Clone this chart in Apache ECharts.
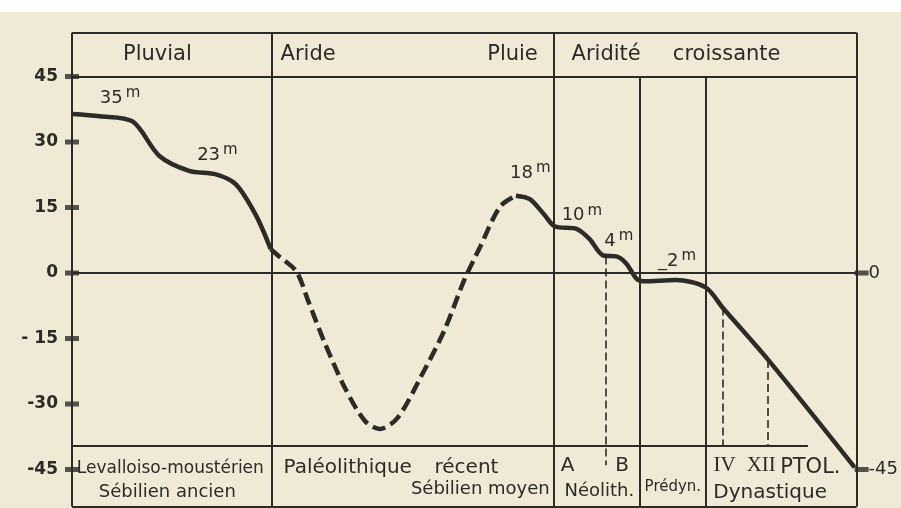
<!DOCTYPE html>
<html><head><meta charset="utf-8">
<script src="https://cdn.jsdelivr.net/npm/echarts@6/dist/echarts.min.js"></script>
<style>html,body{margin:0;padding:0;background:#f0e9d6;}#c{width:901px;height:508px;}</style>
</head><body><div id="c"></div>
<script>
// ---- data (time axis in arbitrary schematic units 0..790, level in metres) ----
const X_MAX = 790;
const yTickValues = [45, 30, 15, 0, -15, -30, -45];
const yTickLabels = ['45', '30', '15', '0', '- 15', '-30', '-45'];
const rightTickValues = [0, -45];
const rightTickLabels = ['0', '-45'];

const curveSolidA = [[0,36.4],[28,35.9],[61,34.7],[88,26.8],[118,23.4],[145,22.6],[165,20.3],[185,13.3],[200,5.5]];
const curveDashed = [[200,5.5],[208,3.9],[226,0.3],[238,-6.5],[255,-16.3],[275,-26.4],[295,-33.9],[310,-35.7],[328,-33.1],[351,-23.9],[375,-13.1],[395,-1.6],[411,6.0],[431,15.2],[447,17.7]];
const curveSolidB = [[447,17.7],[461,16.9],[475,13.5],[486,10.7],[508,10.1],[521,7.8],[535,4.0],[548,3.8],[558,2.2],[568,-1.2],[575,-1.9],[608,-1.6],[638,-3.3],[655,-7.9],[701,-19.9],[788,-44.5]];

// table frame: horizontal [x0, x1, y], vertical [x, y0, y1]
const frameH = [[0,790,55],[0,790,45],[0,790,0],[0,741,-39.5],[0,790,-53.5]];
const frameV = [[0,55,-53.5],[201,55,-53.5],[485,55,-53.5],[572,45,-53.5],[638,45,-53.5],[790,55,-53.5]];
const periodMarks = [[537,3.8,-44],[655,-7.9,-39.5],[701,-19.9,-39.5]];

const headerLabels = [['Pluvial',86,50,'center'],['Aride',210,50,'left'],['Pluie',469,50,'right'],['Aridité',503,50,'left'],['croissante',605,50,'left']];
const levelLabels = [['35',28,40],['23',126,27],['18',441,22.8],['10',493,13.1],['4',536,7.2],['_2',590,2.7]];
const footerLabels = [
  ['Levalloiso-moustérien',99,-44.8,'center',17,'sans'],
  ['Sébilien ancien',96,-50.2,'center',18,'sans'],
  ['Paléolithique',213,-44.5,'left',20,'sans'],
  ['récent',365,-44.5,'left',20,'sans'],
  ['Sébilien moyen',481,-49.5,'right',18,'sans'],
  ['A',499,-44.2,'center',20,'sans'],
  ['B',554,-44.2,'center',20,'sans'],
  ['Néolith.',531,-50,'center',18,'sans'],
  ['Prédyn.',605,-49,'center',15,'sans'],
  ['IV',657,-44,'center',21,'serif'],
  ['XII',694,-44,'center',21,'serif'],
  ['PTOL.',713,-44.6,'left',21,'sans'],
  ['Dynastique',703,-50.4,'center',20,'sans']
];

const INK = '#2c2b28';
const SANS = '"DejaVu Sans", sans-serif';
const SERIF = '"Liberation Serif", serif';

const chart = echarts.init(document.getElementById('c'), null, {renderer: 'canvas'});

const hSeg = frameH.map(d => ({coords: [[d[0], d[2]], [d[1], d[2]]]}));
const vSeg = frameV.map(d => ({coords: [[d[0], d[1]], [d[0], d[2]]]}));
const pSeg = periodMarks.map(d => ({coords: [[d[0], d[1]], [d[0], d[2]]]}));

function curve(data, type) {
  return {
    type: 'line', data: data, smooth: 0.3, showSymbol: false, silent: true, z: 5, clip: false,
    lineStyle: {color: INK, width: 4.5, type: type, cap: 'butt', join: 'round'}
  };
}

// metres 45 .. -45 span 393 px (4.367 px per metre), zero at y = 273
chart.setOption({
  backgroundColor: '#f0e9d6',
  animation: false,
  grid: {left: 72, top: 76.5, width: 790, height: 393},
  xAxis: {type: 'value', min: 0, max: X_MAX, show: false},
  yAxis: [
    {type: 'value', min: -45, max: 45, interval: 15, position: 'left',
     axisLine: {show: false}, axisTick: {show: false}, splitLine: {show: false},
     axisLabel: {margin: 14, color: INK, fontSize: 17, fontWeight: 'bold', fontFamily: SANS,
       formatter: v => { const i = yTickValues.indexOf(v); return i >= 0 ? yTickLabels[i] : ''; }}},
    {type: 'value', min: -45, max: 45, interval: 15, position: 'right',
     axisLine: {show: false}, axisTick: {show: false}, splitLine: {show: false},
     axisLabel: {margin: 12, color: INK, fontSize: 18, fontFamily: SANS,
       formatter: v => { const i = rightTickValues.indexOf(v); return i >= 0 ? rightTickLabels[i] : ''; }}}
  ],
  series: [
    {type: 'lines', coordinateSystem: 'cartesian2d', polyline: false, silent: true, z: 2, clip: false,
     lineStyle: {color: INK, width: 2, opacity: 1, curveness: 0}, data: hSeg.concat(vSeg)},
    {type: 'lines', coordinateSystem: 'cartesian2d', polyline: false, silent: true, z: 3, clip: false,
     lineStyle: {color: INK, width: 1.6, opacity: 1, curveness: 0, type: [8, 4]}, data: pSeg},
    curve(curveSolidA, 'solid'),
    curve(curveDashed, [13, 6]),
    curve(curveSolidB, 'solid'),
    {type: 'scatter', silent: true, z: 4, symbol: 'rect', symbolSize: [14, 5], clip: false,
     itemStyle: {color: INK}, data: yTickValues.map(v => [0, v])},
    {type: 'scatter', silent: true, z: 4, symbol: 'rect', symbolSize: [14, 5], symbolOffset: [5, 0], clip: false,
     itemStyle: {color: INK}, data: rightTickValues.map(v => [X_MAX, v])}
  ]
});

// text annotations anchored in data space
const ctx = document.createElement('canvas').getContext('2d');
function textW(t, font) { ctx.font = font; return ctx.measureText(t).width; }
const graphics = [
  // white scan margin along the top edge
  {type: 'rect', left: 0, top: 0, shape: {width: 901, height: 12}, style: {fill: '#ffffff'}, silent: true, z: 0}
];
function addText(t, x, y, align, size, fam) {
  const p = chart.convertToPixel({gridIndex: 0}, [x, y]);
  graphics.push({type: 'text', x: p[0], y: p[1], silent: true, z: 10,
    style: {text: t, fill: INK, font: size + 'px ' + fam, align: align, verticalAlign: 'middle'}});
}
headerLabels.forEach(d => addText(d[0], d[1], d[2], d[3], 21, SANS));
levelLabels.forEach(d => {
  const f = '18px ' + SANS;
  addText(d[0], d[1], d[2], 'left', 18, SANS);
  const p = chart.convertToPixel({gridIndex: 0}, [d[1], d[2]]);
  graphics.push({type: 'text', x: p[0] + textW(d[0], f) + 3, y: p[1] - 5, silent: true, z: 10,
    style: {text: 'm', fill: INK, font: '15px ' + SANS, align: 'left', verticalAlign: 'middle'}});
});
footerLabels.forEach(d => addText(d[0], d[1], d[2], d[3], d[4], d[5] === 'serif' ? SERIF : SANS));
chart.setOption({graphic: graphics});
</script></body></html>
